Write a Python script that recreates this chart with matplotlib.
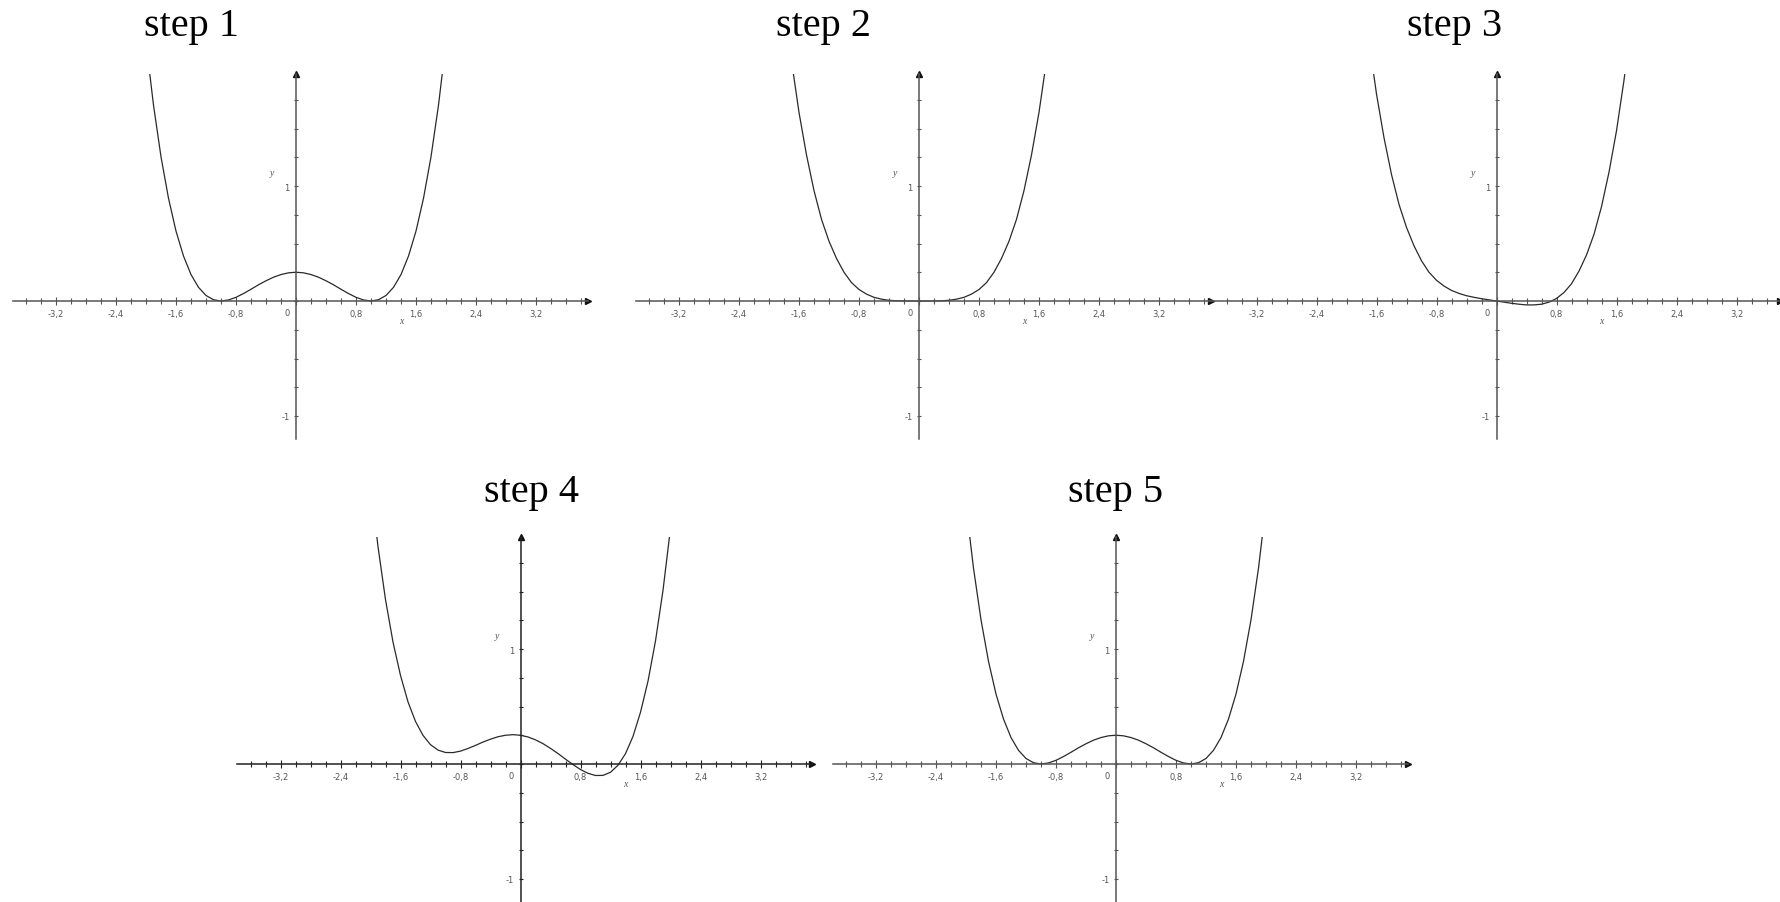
#!/usr/bin/env python3

import numpy as np
import matplotlib.pyplot as plt
from matplotlib.ticker import MultipleLocator, FuncFormatter

# sample positions along x, shared by every curve
x_samples = [-2.0, -1.9, -1.8, -1.7, -1.6, -1.5, -1.4, -1.3, -1.2, -1.1,
             -1.0, -0.9, -0.8, -0.7, -0.6, -0.5, -0.4, -0.3, -0.2, -0.1,
             0.0, 0.1, 0.2, 0.3, 0.4, 0.5, 0.6, 0.7, 0.8, 0.9,
             1.0, 1.1, 1.2, 1.3, 1.4, 1.5, 1.6, 1.7, 1.8, 1.9, 2.0]

# curve heights
step1_y = [2.25, 1.703, 1.254, 0.893, 0.608, 0.391, 0.230, 0.119, 0.048, 0.011,
           0.0, 0.009, 0.032, 0.065, 0.102, 0.141, 0.176, 0.207, 0.230, 0.245,
           0.25, 0.245, 0.230, 0.207, 0.176, 0.141, 0.102, 0.065, 0.032, 0.009,
           0.0, 0.011, 0.048, 0.119, 0.230, 0.391, 0.608, 0.893, 1.254, 1.703, 2.25]
step2_y = [4.00, 3.26, 2.62, 2.09, 1.64, 1.27, 0.96, 0.71, 0.52, 0.37,
           0.25, 0.16, 0.10, 0.06, 0.032, 0.016, 0.006, 0.002, 0.0, 0.0,
           0.0, 0.0, 0.0, 0.002, 0.006, 0.016, 0.032, 0.06, 0.10, 0.16,
           0.25, 0.37, 0.52, 0.71, 0.96, 1.27, 1.64, 2.09, 2.62, 3.26, 4.00]
step3_y = [4.20, 3.45, 2.80, 2.26, 1.80, 1.42, 1.10, 0.84, 0.64, 0.48,
           0.35, 0.25, 0.18, 0.13, 0.092, 0.066, 0.046, 0.032, 0.020, 0.010,
           0.0, -0.010, -0.020, -0.028, -0.034, -0.034, -0.028, -0.010, 0.022, 0.074,
           0.15, 0.26, 0.40, 0.58, 0.82, 1.12, 1.48, 1.92, 2.44, 3.07, 3.80]
step4_y = [2.45, 1.89, 1.43, 1.06, 0.77, 0.54, 0.37, 0.249, 0.168, 0.121,
           0.10, 0.099, 0.112, 0.135, 0.162, 0.191, 0.216, 0.237, 0.250, 0.255,
           0.25, 0.235, 0.210, 0.177, 0.136, 0.091, 0.042, -0.005, -0.048, -0.081,
           -0.10, -0.099, -0.072, -0.011, 0.09, 0.24, 0.45, 0.72, 1.07, 1.51, 2.05]
step5_y = [2.25, 1.703, 1.254, 0.893, 0.608, 0.391, 0.230, 0.119, 0.048, 0.011,
           0.0, 0.009, 0.032, 0.065, 0.102, 0.141, 0.176, 0.207, 0.230, 0.245,
           0.25, 0.245, 0.230, 0.207, 0.176, 0.141, 0.102, 0.065, 0.032, 0.009,
           0.0, 0.011, 0.048, 0.119, 0.230, 0.391, 0.608, 0.893, 1.254, 1.703, 2.25]

titles = ["step 1", "step 2", "step 3", "step 4", "step 5"]

# figure size in pixels
W, H = 1780, 903
PX_X = 75.0   # pixels per x unit
PX_Y = 115.0  # pixels per y unit


def comma_fmt(v, _):
    if abs(v) < 1e-9:
        return ''
    return f'{v:.1f}'.replace('.', ',')


def y_fmt(v, _):
    if abs(v - 1) < 1e-9:
        return '1'
    if abs(v + 1) < 1e-9:
        return '-1'
    return ''


def draw_panel(fig, ox, oy, xlim, ylim, ys, axis_color):
    # place axes so the origin sits at pixel (ox, oy)
    left = ox + xlim[0] * PX_X
    right = ox + xlim[1] * PX_X
    top = oy - ylim[1] * PX_Y
    bottom = oy - ylim[0] * PX_Y
    ax = fig.add_axes([left / W, 1 - bottom / H, (right - left) / W, (bottom - top) / H])
    ax.set_xlim(*xlim)
    ax.set_ylim(*ylim)
    ax.patch.set_alpha(0)

    ax.plot(x_samples, ys, color='#2a2a2a', lw=0.9)

    for side in ['top', 'right']:
        ax.spines[side].set_visible(False)
    for side in ['left', 'bottom']:
        ax.spines[side].set_position(('data', 0))
        ax.spines[side].set_color(axis_color)
        ax.spines[side].set_linewidth(1.1)

    # arrow heads
    ax.plot(1, 0, marker='>', ms=5, color='#111111', transform=ax.get_yaxis_transform(), clip_on=False)
    ax.plot(0, 1, marker='^', ms=5, color='#111111', transform=ax.get_xaxis_transform(), clip_on=False)

    ax.xaxis.set_major_locator(MultipleLocator(0.8))
    ax.xaxis.set_minor_locator(MultipleLocator(0.2))
    ax.xaxis.set_major_formatter(FuncFormatter(comma_fmt))
    ax.yaxis.set_major_locator(MultipleLocator(0.25))
    ax.yaxis.set_major_formatter(FuncFormatter(y_fmt))
    ax.tick_params(axis='x', which='major', direction='inout', length=6, width=0.8,
                   color=axis_color, labelsize=6, labelcolor='#555555', pad=3)
    ax.tick_params(axis='x', which='minor', direction='inout', length=4, width=0.8, color=axis_color)
    ax.tick_params(axis='y', which='major', direction='inout', length=3, width=0.8,
                   color=axis_color, labelsize=6, labelcolor='#555555', pad=3)

    ax.annotate('0', (0, 0), xytext=(-6.5, -8), textcoords='offset points',
                ha='center', va='center', fontsize=6, color='#555555')
    ax.annotate('x', (1.4, 0), xytext=(0, -14), textcoords='offset points',
                ha='center', va='center', fontsize=7, color='#555555',
                family='Liberation Serif', style='italic')
    ax.annotate('y', (-0.32, 1.12), ha='center', va='center', fontsize=7, color='#555555',
                family='Liberation Serif', style='italic')
    return ax


def main():
    fig = plt.figure(figsize=(W / 100, H / 100), dpi=100)
    fig.patch.set_facecolor('white')

    xlim_std = (-3.78, 3.89)
    ylim_std = (-1.2, 1.97)

    # origin pixel, x limits, data, title centre x, title baseline y, axis colour
    panels = [
        (296.0, 302.0, xlim_std, step1_y, 191, 36, '#555555'),
        (919.0, 302.0, xlim_std, step2_y, 824, 36, '#555555'),
        (1496.5, 302.0, (-3.79, 3.78), step3_y, 1455, 36, '#555555'),
        (520.5, 765.0, xlim_std, step4_y, 531, 502, '#222222'),
        (1116.0, 765.0, xlim_std, step5_y, 1116, 502, '#555555'),
    ]
    for (ox, oy, xlim, ys, tx, ty, col), title in zip(panels, titles):
        draw_panel(fig, ox, oy, xlim, ylim_std, ys, col)
        fig.text(tx / W, 1 - ty / H, title, ha='center', va='baseline',
                 fontsize=29, family='Liberation Serif', color='black')

    fig.savefig('out.png', dpi=100, facecolor='white')


if __name__ == "__main__":
    main()
